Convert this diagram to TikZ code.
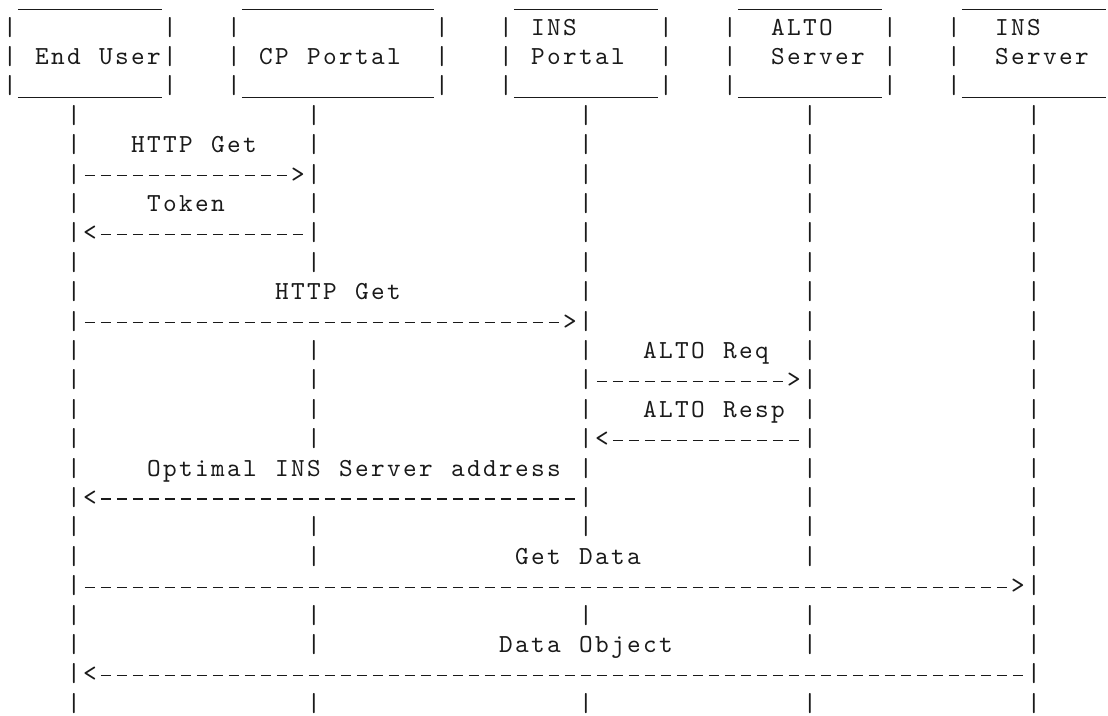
\documentclass[tikz,border=0pt]{standalone}
\usepackage{fontspec}
\newfontfamily\asciifont{lmmono10-regular}[Extension=.otf]
% one character cell of the monospaced art
\newlength\cw
\setlength\cw{12pt}
\ExplSyntaxOn
\cs_new_protected:Npn \blank { }
% underscore and hyphen drawn as rules so that runs of them line up cell by cell
\cs_new_protected:Npn \asciiul { \rule[-3pt]{\cw}{0.85pt} }
\cs_new_protected:Npn \asciidash { \rule[4.5pt]{7.5pt}{0.85pt} }
\cs_new:Npn \gap #1 { \prg_replicate:nn {#1} { \blank } }
\cs_new:Npn \bars #1 { \prg_replicate:nn {#1} { \asciiul } }
\cs_new:Npn \dashes #1 { \prg_replicate:nn {#1} { \asciidash } }
\tl_new:N \l__ascii_row_tl
% set every character of a row in its own fixed-width cell
\NewDocumentCommand \asciicells { m }
  {
    \tl_set:Nx \l__ascii_row_tl { #1 }
    \tl_map_inline:Nn \l__ascii_row_tl { \makebox[\cw][c]{##1} }
  }
\ExplSyntaxOff
\newcommand\lifelines{\gap{4}|\gap{14}|\gap{16}|\gap{13}|\gap{13}|}
\definecolor{ink}{HTML}{1A1A1A}
\tikzset{
  asciirow/.style={anchor=base west, inner sep=0pt, outer sep=0pt,
    font=\asciifont\fontsize{19.5pt}{22pt}\selectfont, text=ink}
}
% a row of the chart, placed on its baseline
\newcommand\artrow[2]{\node[asciirow] (row#1) at (1.5pt,{-4.3pt-22.05pt*#1}) {\asciicells{#2}};}
\begin{document}
\begin{tikzpicture}
\useasboundingbox (0,0) rectangle (831pt,-536.25pt);
% participant boxes
\artrow{0}{\gap{1}\bars{9}\gap{5}\bars{12}\gap{5}\bars{9}\gap{5}\bars{9}\gap{5}\bars{9}}
\artrow{1}{|\gap{9}|\gap{3}|\gap{12}|\gap{3}|\gap{1}INS\gap{5}|\gap{3}|\gap{2}ALTO\gap{3}|\gap{3}|\gap{2}INS}
\artrow{2}{|\gap{1}End\blank User|\gap{3}|\gap{1}CP\blank Portal\gap{2}|\gap{3}|\gap{1}Portal\gap{2}|\gap{3}|\gap{2}Server\gap{1}|\gap{3}|\gap{2}Server}
\artrow{3}{|\bars{9}|\gap{3}|\bars{12}|\gap{3}|\bars{9}|\gap{3}|\bars{9}|\gap{3}|\bars{9}}
% message exchange
\artrow{4}{\lifelines}
\artrow{5}{\gap{4}|\gap{3}HTTP\blank Get\gap{3}|\gap{16}|\gap{13}|\gap{13}|}
\artrow{6}{\gap{4}|\dashes{13}>|\gap{16}|\gap{13}|\gap{13}|}
\artrow{7}{\gap{4}|\gap{4}Token\gap{5}|\gap{16}|\gap{13}|\gap{13}|}
\artrow{8}{\gap{4}|<\dashes{13}|\gap{16}|\gap{13}|\gap{13}|}
\artrow{9}{\lifelines}
\artrow{10}{\gap{4}|\gap{12}HTTP\blank Get\gap{11}|\gap{13}|\gap{13}|}
\artrow{11}{\gap{4}|\dashes{30}>|\gap{13}|\gap{13}|}
\artrow{12}{\gap{4}|\gap{14}|\gap{16}|\gap{3}ALTO\blank Req\gap{2}|\gap{13}|}
\artrow{13}{\gap{4}|\gap{14}|\gap{16}|\dashes{12}>|\gap{13}|}
\artrow{14}{\gap{4}|\gap{14}|\gap{16}|\gap{3}ALTO\blank Resp\gap{1}|\gap{13}|}
\artrow{15}{\gap{4}|\gap{14}|\gap{16}|<\dashes{12}|\gap{13}|}
\artrow{16}{\gap{4}|\gap{4}Optimal\blank INS\blank Server\blank address\gap{1}|\gap{13}|\gap{13}|}
\artrow{17}{\gap{4}|<\dashes{30}|\gap{13}|\gap{13}|}
\artrow{18}{\lifelines}
\artrow{19}{\gap{4}|\gap{14}|\gap{12}Get\blank Data\gap{10}|\gap{13}|}
\artrow{20}{\gap{4}|\dashes{58}>|}
\artrow{21}{\lifelines}
\artrow{22}{\gap{4}|\gap{14}|\gap{11}Data\blank Object\gap{8}|\gap{13}|}
\artrow{23}{\gap{4}|<\dashes{58}|}
\artrow{24}{\lifelines}
\end{tikzpicture}
\end{document}
